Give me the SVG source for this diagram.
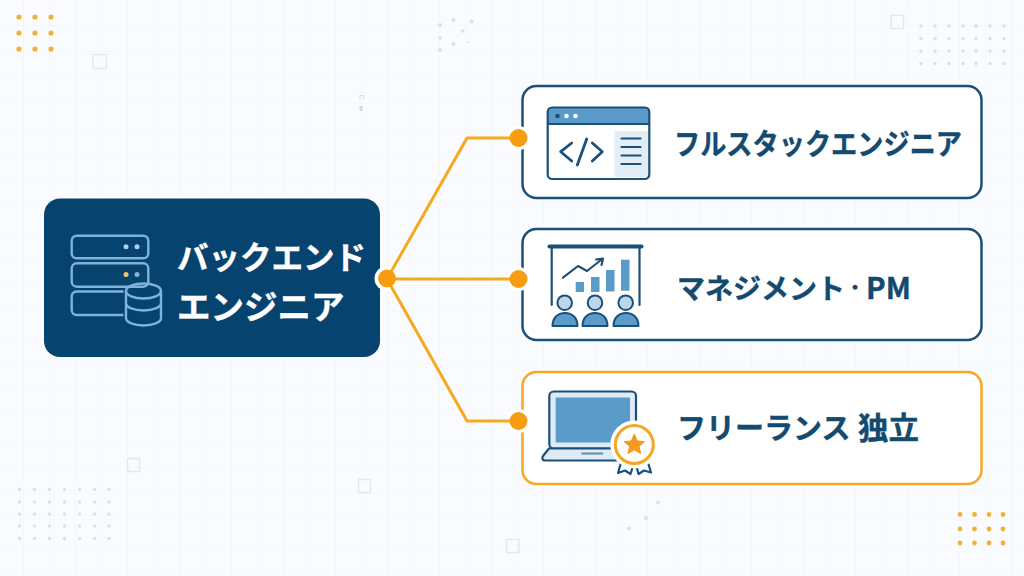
<svg xmlns="http://www.w3.org/2000/svg" width="1024" height="576" viewBox="0 0 1024 576">
<style>
.card{fill:#fff;stroke:#1c5078;stroke-width:2.5}
.cardo{fill:#fff;stroke:#f5a623;stroke-width:2.5}
.jp{font-family:"Noto Sans CJK JP","Noto Sans",sans-serif;font-weight:700;stroke-width:.4}
.lbl{fill:#134a70;stroke:#134a70}
.wl{fill:#fff;stroke:#fff}
.conn{fill:none;stroke:#f5a91f;stroke-width:3;stroke-linejoin:round}
.hub{fill:#f89c12}
.ring{fill:#fff}
.sv{fill:none;stroke:#7fb3da;stroke-width:2.4}
.ic{fill:none;stroke:#1c5078;stroke-width:2.2;stroke-linecap:round;stroke-linejoin:round}
.ib{fill:#5b9bc9}
.sq{fill:none;stroke:#e2e9ee;stroke-width:1.5}
.od circle{fill:#eeb23c}
.gd circle{fill:#d9e0e6}
</style>
<defs>
<pattern id="grid" width="26" height="26" patternUnits="userSpaceOnUse" x="-3" y="-1">
<path d="M0 .5H26M.5 0V26" stroke="#f5f7fb" stroke-width="1" fill="none"/>
<circle cx=".5" cy=".5" r="1" fill="#f0f3f7"/>
</pattern>
</defs>
<g id="background">
<rect width="1024" height="576" fill="#f9fbfe"/>
<rect width="1024" height="576" fill="url(#grid)"/>
<g class="od">
<circle cx="19" cy="17" r="2.6"/><circle cx="35" cy="17" r="2.6"/><circle cx="51" cy="17" r="2.6"/>
<circle cx="19" cy="33" r="2.6"/><circle cx="35" cy="33" r="2.6"/><circle cx="51" cy="33" r="2.6"/>
<circle cx="19" cy="49" r="2.6"/><circle cx="35" cy="49" r="2.6"/><circle cx="51" cy="49" r="2.6"/>
<circle cx="960" cy="514.5" r="2.4"/><circle cx="974.500" cy="514.5" r="2.4"/><circle cx="989" cy="514.5" r="2.4"/><circle cx="1003" cy="514.5" r="2.4"/>
<circle cx="960" cy="529" r="2.4"/><circle cx="974.500" cy="529" r="2.4"/><circle cx="989" cy="529" r="2.4"/><circle cx="1003" cy="529" r="2.4"/>
<circle cx="960" cy="543" r="2.4"/><circle cx="974.500" cy="543" r="2.4"/><circle cx="989" cy="543" r="2.4"/><circle cx="1003" cy="543" r="2.4"/>
</g>
<g class="gd">
<circle cx="440" cy="25" r="1.9"/><circle cx="453.500" cy="20" r="1.9"/><circle cx="471.500" cy="21.500" r="1.9"/><circle cx="462.500" cy="31" r="1.7"/><circle cx="440" cy="38" r="1.7"/><circle cx="453.500" cy="44" r="1.9"/><circle cx="468" cy="42" r="1"/><circle cx="440" cy="50" r="1.9"/>
<circle cx="658" cy="502.500" r="1.9"/><circle cx="646" cy="518" r="1.9"/><circle cx="629" cy="528.500" r="1.9"/>
<circle cx="921" cy="26" r="1.7"/><circle cx="935" cy="26" r="1.7"/><circle cx="949" cy="26" r="1.7"/><circle cx="963" cy="26" r="1.7"/><circle cx="976" cy="26" r="1.7"/><circle cx="990" cy="26" r="1.7"/><circle cx="1004" cy="26" r="1.7"/>
<circle cx="921" cy="38.500" r="1.7"/><circle cx="935" cy="38.500" r="1.7"/><circle cx="949" cy="38.500" r="1.7"/><circle cx="963" cy="38.500" r="1.7"/><circle cx="976" cy="38.500" r="1.7"/><circle cx="990" cy="38.500" r="1.7"/><circle cx="1004" cy="38.500" r="1.7"/>
<circle cx="921" cy="51" r="1.7"/><circle cx="935" cy="51" r="1.7"/><circle cx="949" cy="51" r="1.7"/><circle cx="963" cy="51" r="1.7"/><circle cx="976" cy="51" r="1.7"/><circle cx="990" cy="51" r="1.7"/><circle cx="1004" cy="51" r="1.7"/>
<circle cx="921" cy="63.500" r="1.7"/><circle cx="935" cy="63.500" r="1.7"/><circle cx="949" cy="63.500" r="1.7"/><circle cx="963" cy="63.500" r="1.7"/><circle cx="976" cy="63.500" r="1.7"/><circle cx="990" cy="63.500" r="1.7"/><circle cx="1004" cy="63.500" r="1.7"/>
<circle cx="19.500" cy="489.500" r="1.7"/><circle cx="34.500" cy="489.500" r="1.7"/><circle cx="49.500" cy="489.500" r="1.7"/><circle cx="64.500" cy="489.500" r="1.7"/><circle cx="79.500" cy="489.500" r="1.7"/><circle cx="94.500" cy="489.500" r="1.7"/><circle cx="109" cy="489.500" r="1.7"/>
<circle cx="19.500" cy="502" r="1.7"/><circle cx="34.500" cy="502" r="1.7"/><circle cx="49.500" cy="502" r="1.7"/><circle cx="64.500" cy="502" r="1.7"/><circle cx="79.500" cy="502" r="1.7"/><circle cx="94.500" cy="502" r="1.7"/><circle cx="109" cy="502" r="1.7"/>
<circle cx="19.500" cy="514" r="1.7"/><circle cx="34.500" cy="514" r="1.7"/><circle cx="49.500" cy="514" r="1.7"/><circle cx="64.500" cy="514" r="1.7"/><circle cx="79.500" cy="514" r="1.7"/><circle cx="94.500" cy="514" r="1.7"/><circle cx="109" cy="514" r="1.7"/>
<circle cx="19.500" cy="526" r="1.7"/><circle cx="34.500" cy="526" r="1.7"/><circle cx="49.500" cy="526" r="1.7"/><circle cx="64.500" cy="526" r="1.7"/><circle cx="79.500" cy="526" r="1.7"/><circle cx="94.500" cy="526" r="1.7"/><circle cx="109" cy="526" r="1.7"/>
<circle cx="19.500" cy="538.500" r="1.7"/><circle cx="34.500" cy="538.500" r="1.7"/><circle cx="49.500" cy="538.500" r="1.7"/><circle cx="64.500" cy="538.500" r="1.7"/><circle cx="79.500" cy="538.500" r="1.7"/><circle cx="94.500" cy="538.500" r="1.7"/><circle cx="109" cy="538.500" r="1.7"/>
</g>
<rect class="sq" x="93" y="54.500" width="13.500" height="14"/>
<rect class="sq" x="891" y="15.500" width="12.500" height="13"/>
<rect class="sq" x="127.500" y="458.500" width="12" height="13"/>
<rect class="sq" x="358.500" y="479.500" width="12" height="13"/>
<rect class="sq" x="506.500" y="539.500" width="12.500" height="13"/>
<path d="M360 99V95.500h3.500V99" fill="none" stroke="#d5dfe7" stroke-width="1.2"/>
<rect x="359.500" y="106" width="3" height="5" fill="#cbd9e5"/>
</g>
<g id="node-backend">
<rect x="44" y="198.500" width="336" height="158.500" rx="16" fill="#06436f"/>
<rect class="sv" x="71.700" y="235.700" width="76.600" height="22.600" rx="5"/>
<rect class="sv" x="71.700" y="263.300" width="76.600" height="23.400" rx="5"/>
<rect class="sv" x="71.700" y="291.500" width="76.600" height="23.500" rx="5"/>
<circle cx="126" cy="246.700" r="2.500" fill="#a9d0ec"/><circle cx="137" cy="246.700" r="2.500" fill="#a9d0ec"/>
<circle cx="126" cy="274.500" r="2.500" fill="#eec766"/><circle cx="137" cy="274.500" r="2.500" fill="#7fb3da"/>
<path d="M126 291v27c0 4.500 8 7.500 17.500 7.500s17.500-3 17.500-7.500v-27z" fill="#06436f" stroke="#06436f" stroke-width="5"/>
<ellipse class="sv" cx="143.500" cy="291" rx="17.500" ry="7.500" fill="#06436f"/>
<path class="sv" d="M126 291v27c0 4.500 8 7.500 17.500 7.500s17.500-3 17.500-7.500v-27M126 303c0 4.500 8 7.500 17.500 7.500s17.500-3 17.500-7.500"/>
<text class="jp wl" x="177" y="269" font-size="31.500">バックエンド</text>
<text class="jp wl" x="177" y="318.500" font-size="33.500">エンジニア</text>
</g>
<g id="node-fullstack">
<rect class="card" x="522.500" y="86" width="459" height="112" rx="14"/>
<path d="M547.500 124v-13a4 4 0 0 1 4-4h94a4 4 0 0 1 4 4v13z" class="ib"/>
<rect x="614.500" y="131" width="34" height="46" fill="#e3edf5"/>
<rect class="ic" x="547.700" y="107.500" width="101.600" height="71.500" rx="4.500"/>
<path class="ic" d="M548 124H649M621.500 138.500H640.500M621.500 147H640.500M621.500 155.500H640.500M621.500 164H640.500"/>
<circle cx="557.500" cy="116" r="2.300" fill="#1c5078"/><circle cx="566.500" cy="116" r="2.300" fill="#fff"/><circle cx="575.500" cy="116" r="2.300" fill="#fff"/>
<path class="ic" style="stroke-width:2.800" d="M571.700 143L560.700 151.700L571.700 161M586.700 139L577.300 165M592.300 143L602.300 151.700L592.300 161"/>
<text class="jp lbl" x="674" y="155" font-size="29" textLength="288" lengthAdjust="spacingAndGlyphs">フルスタックエンジニア</text>
</g>
<g id="node-management">
<rect class="card" x="522.500" y="229" width="459" height="111" rx="14"/>
<path class="ic" d="M551.700 247V305M639.500 247V305"/>
<path d="M549.500 246.500H641.500" stroke="#1c5078" stroke-width="4" stroke-linecap="round"/>
<rect class="ib" x="575.700" y="282" width="8.300" height="10"/><rect class="ib" x="591" y="277" width="8.500" height="15"/><rect class="ib" x="606" y="270" width="8.500" height="21.500"/><rect class="ib" x="621" y="259.700" width="8.500" height="31"/>
<path class="ic" d="M563 277.700L578 266L587 271L601 260M596 259.500L603 258.700L601.500 265"/>
<g fill="#bcd6ea" stroke="#1c5078" stroke-width="2"><circle cx="564.700" cy="302.700" r="7.300"/><circle cx="595" cy="302.700" r="7.300"/><circle cx="625.700" cy="302.700" r="7.300"/></g>
<g fill="#5b9bc9" stroke="#1c5078" stroke-width="2" stroke-linejoin="round"><path d="M552.500 326c0-8 5-13 12.500-13s12.500 5 12.500 13z"/><path d="M582.500 326c0-8 5-13 12.500-13s12.500 5 12.500 13z"/><path d="M613.500 326c0-8 5-13 12.500-13s12.500 5 12.500 13z"/></g>
<text class="jp lbl" y="299" font-size="28"><tspan x="677">マネジメント</tspan><tspan x="846" y="294" font-size="18">・</tspan><tspan x="866" y="299" font-size="29.500">PM</tspan></text>
</g>
<g id="node-freelance">
<rect class="cardo" x="522.500" y="372" width="459" height="112" rx="14"/>
<rect x="549.300" y="391.500" width="86.700" height="57" rx="4.500" fill="#dcebf6" stroke="#1c5078" stroke-width="2.200"/>
<rect class="ib" x="555.700" y="397.500" width="74.300" height="45"/>
<path d="M549 448.500L543 456c-1.500 2-.5 4.500 2 4.500H625V448.500z" fill="#dcebf6" stroke="#1c5078" stroke-width="2.200" stroke-linejoin="round"/>
<path d="M581.500 453.500H603" stroke="#5b8fb5" stroke-width="2"/>
<path class="ic" d="M621.500 461L618 473L625 470.500L630.500 474L634 463M647.500 461L651 472.500L644 470.500L638.500 474L635.500 463"/>
<circle cx="634.300" cy="444.500" r="24" fill="#fff"/>
<circle cx="634.300" cy="444.500" r="19" fill="#fff" stroke="#f5a623" stroke-width="3"/>
<path d="M634.300 434l3 7 7.200.6-5.500 4.800 1.700 7.200-6.400-3.800-6.400 3.800 1.700-7.200-5.500-4.800 7.200-.6z" fill="#f59a1b" stroke="#f59a1b" stroke-width="1" stroke-linejoin="round"/>
<text class="jp lbl" y="439" font-size="29"><tspan x="677">フリーランス</tspan><tspan x="858" font-size="30.500">独立</tspan></text>
</g>
<g id="connectors">
<circle class="ring" cx="387" cy="278.500" r="12.500"/>
<circle class="ring" cx="518.500" cy="138" r="12"/>
<circle class="ring" cx="518.500" cy="279" r="12"/>
<circle class="ring" cx="518.500" cy="421" r="12"/>
<path class="conn" d="M387 279L467 138H518"/>
<path class="conn" d="M387 279H518"/>
<path class="conn" d="M387 279L467 421H518"/>
<circle class="hub" cx="387" cy="278.500" r="9"/>
<circle class="hub" cx="518.500" cy="138" r="9"/>
<circle class="hub" cx="518.500" cy="279" r="9"/>
<circle class="hub" cx="518.500" cy="421" r="9"/>
</g>
</svg>
